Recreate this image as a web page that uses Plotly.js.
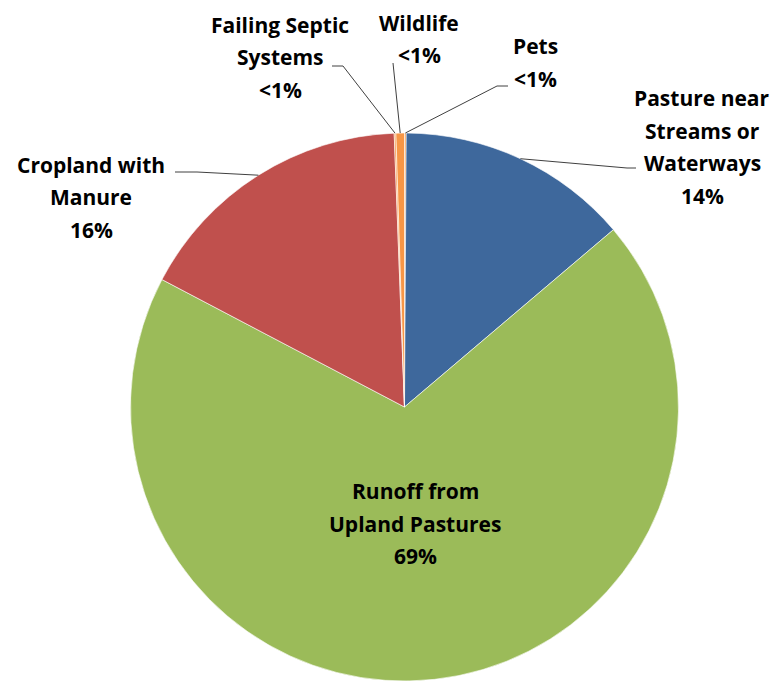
<!DOCTYPE html>
<html>
<head>
<meta charset="utf-8">
<script src="https://cdn.plot.ly/plotly-3.0.1.min.js"></script>
<style>html,body{margin:0;padding:0;background:#fff;}#chart{width:775px;height:681px;}</style>
</head>
<body>
<div id="chart"></div>
<script>
// ---- data (clockwise from 12 o'clock) ----
var labels = ["Pets", "Pasture near Streams or Waterways", "Runoff from Upland Pastures", "Cropland with Manure", "Failing Septic Systems", "Wildlife"];
var values = [0.1, 13.7, 68.9, 16.7, 0.1, 0.5];
var pctText = ["<1%", "14%", "69%", "16%", "<1%", "<1%"];
var labelLines = [
  ["Pets"],
  ["Pasture near", "Streams or", "Waterways"],
  ["Runoff from", "Upland Pastures"],
  ["Cropland with", "Manure"],
  ["Failing Septic", "Systems"],
  ["Wildlife"]
];
var colors = ["#f79646", "#3e689c", "#9bbb59", "#c0504d", "#f79646", "#f79646"];

// ---- layout geometry (pixels) ----
var W = 775, H = 681;
var cx = 404.5, cy = 407, R = 274;
var lineGap = 32.5;
// label block: center x, first-line center y; leader: [elbow, end] or null
var labelPos = [
  {x: 535, y: 46, leader: [[497, 86], [508, 86]]},
  {x: 702, y: 98, leader: [[627, 168], [636, 168]]},
  {x: 415, y: 491, leader: null},
  {x: 91, y: 165, leader: [[197, 172], [175, 172]]},
  {x: 280, y: 25, leader: [[343, 66], [332, 66]]},
  {x: 419, y: 23, leader: [[393, 63], [393, 63]]}
];

function px(x) { return x / W; }
function py(y) { return 1 - y / H; }

var total = values.reduce(function(a, b) { return a + b; }, 0);
var annotations = [];
var shapes = [];
var cum = 0;
for (var i = 0; i < values.length; i++) {
  var mid = (cum + values[i] / 2) / total * 2 * Math.PI;
  cum += values[i];
  var ex = cx + R * Math.sin(mid);
  var ey = cy - R * Math.cos(mid);
  var lp = labelPos[i];
  var lines = labelLines[i].concat([pctText[i]]);
  for (var k = 0; k < lines.length; k++) {
    annotations.push({
      xref: 'paper', yref: 'paper',
      x: px(lp.x), y: py(lp.y + k * lineGap),
      xanchor: 'center', yanchor: 'middle',
      text: lines[k].replace('<', '&lt;'),
      showarrow: false,
      font: {family: '"Open Sans", sans-serif', size: 21, color: '#000', weight: 700}
    });
  }
  if (lp.leader) {
    var p = 'M' + px(ex) + ',' + py(ey) + ' L' + px(lp.leader[0][0]) + ',' + py(lp.leader[0][1]) +
            ' L' + px(lp.leader[1][0]) + ',' + py(lp.leader[1][1]);
    shapes.push({type: 'path', xref: 'paper', yref: 'paper', path: p,
      line: {color: '#404040', width: 1}});
  }
}

var trace = {
  type: 'pie',
  labels: labels,
  values: values,
  sort: false,
  direction: 'clockwise',
  rotation: 0,
  textinfo: 'none',
  hoverinfo: 'label+percent',
  marker: {colors: colors, line: {color: '#ffffff', width: 0.6}},
  domain: {x: [(cx - R) / W, (cx + R) / W], y: [1 - (cy + R) / H, 1 - (cy - R) / H]},
  showlegend: false
};

var layout = {
  width: W, height: H,
  margin: {l: 0, r: 0, t: 0, b: 0},
  paper_bgcolor: '#ffffff',
  showlegend: false,
  annotations: annotations,
  shapes: shapes
};

Plotly.newPlot('chart', [trace], layout, {displayModeBar: false, staticPlot: true});
</script>
</body>
</html>
